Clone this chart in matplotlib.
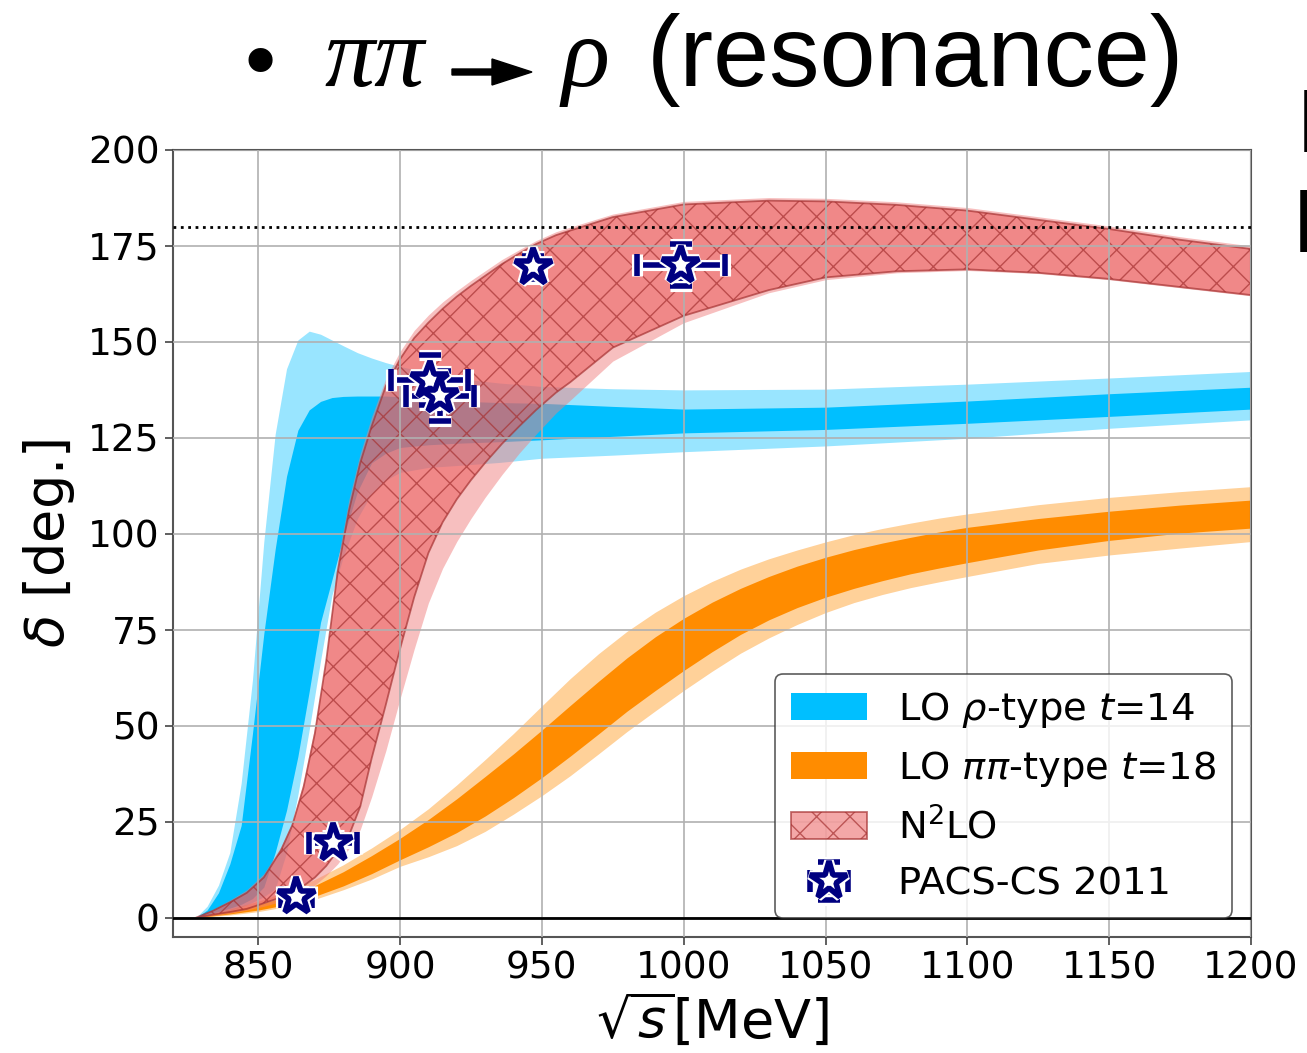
import matplotlib
matplotlib.use("Agg")
import matplotlib.pyplot as plt
import matplotlib.patheffects as pe
from matplotlib.patches import FancyArrow
from matplotlib.transforms import IdentityTransform

# ---------------- data ----------------
# LO rho-type t=14 band (sqrt(s) in MeV, delta in degrees)
x_rho = [828, 832, 836, 840, 844, 848, 852, 856, 860, 864, 868, 872, 876, 880,
         885, 890, 895, 900, 910, 920, 935, 950, 975, 1000, 1050, 1100, 1150, 1200]
rho_outer_hi = [0, 3, 8.5, 17, 35, 62, 98, 126, 143, 150.5, 152.8, 152, 150.5, 149,
                147.2, 145.8, 144.6, 143.6, 142, 140.5, 139.3, 138.4, 137.8, 137.5, 137.7, 139, 140.6, 142.3]
rho_outer_lo = [0, 0.5, 1, 1.8, 2.8, 4, 5.5, 7.5, 17, 32, 49, 67, 84, 94,
                104, 110.5, 114, 116, 117.3, 117.8, 118.6, 119.7, 120.5, 121.4, 122.9, 124.9, 127.5, 129.7]
rho_inner_hi = [0, 2, 6.5, 14, 24, 48, 74, 96, 115, 127, 132.3, 134.5, 135.5, 135.8,
                135.9, 135.9, 135.9, 135.7, 135.2, 134.6, 134.2, 134, 133.2, 132.5, 133, 134.6, 136.5, 138.2]
rho_inner_lo = [0, 0.8, 1.6, 2.5, 3.5, 5, 8, 17, 28, 42, 59, 77, 88, 99,
                111, 118.5, 121, 122.5, 123.2, 123.6, 124, 124.5, 125.4, 126.3, 127.2, 128.8, 130.6, 132.5]

# LO pipi-type t=18 band
x_pipi = [828, 840, 850, 860, 870, 880, 890, 900, 910, 920, 930, 940, 950, 960, 970, 980,
          990, 1000, 1010, 1020, 1030, 1040, 1050, 1060, 1070, 1080, 1090, 1100, 1125,
          1150, 1175, 1200]
pipi_outer_hi = [0, 2.3, 4.3, 6.8, 10, 13.8, 18.2, 23, 28.4, 34.6, 41.2, 48, 55.2, 62.3, 68.8, 74.6,
                 79.6, 83.9, 87.6, 90.8, 93.5, 95.8, 97.9, 99.8, 101.4, 102.8, 104.1, 105.2, 107.6,
                 109.5, 111, 112.3]
pipi_outer_lo = [0, 0.7, 1.6, 2.9, 4.8, 7.3, 10.1, 13.4, 15.9, 18.8, 22.5, 27, 31.8, 37, 42.7, 48.5,
                 53.9, 59.2, 64.2, 68.9, 72.9, 76.4, 79.5, 82.1, 84.2, 86, 87.5, 88.9, 92.3,
                 94.5, 96.3, 98]
pipi_inner_hi = [0, 1.8, 3.4, 5.5, 8.4, 12, 16.2, 20.7, 25.6, 31, 36.8, 42.7, 48.9, 55.3, 61.6, 67.7,
                 73.2, 78, 82.2, 85.8, 88.9, 91.6, 93.9, 95.9, 97.6, 99.1, 100.5, 101.7, 104,
                 105.9, 107.5, 108.8]
pipi_inner_lo = [0, 1.0, 2.0, 3.4, 5.6, 8.3, 11.5, 15.1, 18.5, 22.2, 26.5, 31.3, 36.5, 42.1, 47.9, 53.8,
                 59.2, 64.4, 69.3, 73.8, 77.6, 80.8, 83.5, 85.8, 87.8, 89.6, 91.1, 92.5, 95.8,
                 98.3, 100.2, 101.5]

# N2LO band
x_n2lo = [828, 834, 840, 846, 852, 858, 862, 866, 870, 874, 878, 882, 886, 890, 895, 900,
          905, 910, 915, 920, 925, 930, 936, 942, 948, 955, 960, 975, 1000, 1030, 1050,
          1075, 1100, 1125, 1150, 1175, 1200]
n2lo_outer_hi = [0, 2.2, 4.6, 7.3, 11.5, 18.5, 25, 35.5, 50, 68, 93, 109, 121, 130.5, 140.5, 147.5,
                 153, 157, 160.4, 163.3, 166, 168.5, 171.5, 174, 176.4, 178.7, 179.9, 183.3, 186.6, 187.6, 187.4,
                 186.5, 185, 182.6, 180.2, 177.4, 175]
n2lo_outer_lo = [0, 0.6, 1.2, 2, 3, 4.2, 5.2, 6.5, 8.5, 11, 14, 18, 23, 31.5, 43.5, 57,
                 70, 82, 91, 98, 104, 109.5, 115.5, 121, 126, 131.5, 134.8, 145, 155, 162.8, 166.2,
                 168, 168.6, 167.8, 166.2, 164.1, 162]
n2lo_inner_hi = [0, 1.8, 4, 6.5, 10.5, 17.5, 24, 34, 48, 67, 90, 106, 118.5, 128, 138.5, 145.5,
                 151, 155, 158.6, 161.8, 164.6, 167.2, 170.3, 173, 175.5, 177.8, 179, 182.5, 185.8, 186.8, 186.6,
                 185.7, 184.2, 181.8, 179.4, 176.6, 174.2]
n2lo_inner_lo = [0, 0.8, 1.5, 2.3, 3.8, 5.3, 6.5, 8.3, 10.5, 13.5, 17.5, 21.4, 29, 41.5, 55.5, 70,
                 83.5, 95, 103, 109, 114, 118.5, 123.5, 128, 132.3, 136.8, 139.5, 148.5, 156.8, 163.5, 166.8,
                 168.4, 168.9, 168, 166.4, 164.3, 162.2]

# PACS-CS 2011 lattice points
pacs_x = [863.5, 876.5, 910.5, 914.0, 947.0, 999.0]
pacs_y = [5.5, 19.5, 140.0, 136.0, 169.5, 170.0]
pacs_xerr = [5.5, 8.5, 13.5, 12.0, 3.0, 15.5]
pacs_yerr = [1.5, 2.0, 6.5, 6.5, 3.0, 5.5]

x_ticks = [850, 900, 950, 1000, 1050, 1100, 1150, 1200]
y_ticks = [0, 25, 50, 75, 100, 125, 150, 175, 200]

label_rho = r'LO $\rho$-type $t$=14'
label_pipi = r'LO $\pi\pi$-type $t$=18'
label_n2lo = r'N$^2$LO'
label_pacs = 'PACS-CS 2011'

# ---------------- figure ----------------
fig = plt.figure(figsize=(13.07, 10.53), dpi=100)
ax = fig.add_axes([0.1324, 0.1102, 0.8248, 0.7474])

blue = '#00BFFF'
orange = '#FF8C00'

ax.fill_between(x_rho, rho_outer_lo, rho_outer_hi, color=blue, alpha=0.4, lw=0, zorder=1)
ax.fill_between(x_rho, rho_inner_lo, rho_inner_hi, color=blue, lw=0, zorder=1.1,
                label=label_rho)
ax.fill_between(x_pipi, pipi_outer_lo, pipi_outer_hi, color=orange, alpha=0.4, lw=0, zorder=1.2)
ax.fill_between(x_pipi, pipi_inner_lo, pipi_inner_hi, color=orange, lw=0, zorder=1.3,
                label=label_pipi)
ax.fill_between(x_n2lo, n2lo_outer_lo, n2lo_outer_hi, color='lightcoral', alpha=0.5,
                lw=0, zorder=1.4)
ax.fill_between(x_n2lo, n2lo_inner_lo, n2lo_inner_hi, facecolor=(0.92, 0.32, 0.32, 0.5),
                edgecolor=(0.65, 0.2, 0.2, 0.7), hatch='x', lw=1.3, zorder=1.5,
                label=label_n2lo)

ax.axhline(0, color='black', lw=2, zorder=3)
ax.axhline(180, color='black', ls=':', lw=2, zorder=3)

eb = ax.errorbar(pacs_x, pacs_y, xerr=pacs_xerr, yerr=pacs_yerr, fmt='*', ms=28,
                 mfc='white', mec='navy', mew=4, ecolor='navy', elinewidth=4,
                 capsize=8, capthick=4, zorder=6, label=label_pacs)
halo = [pe.Stroke(linewidth=8, foreground='white'), pe.Normal()]
eb[0].set_path_effects([pe.Stroke(linewidth=7, foreground='white'), pe.Normal()])
for cap in eb[1]:
    cap.set_path_effects(halo)
for bar in eb[2]:
    bar.set_path_effects(halo)

ax.set_xlim(820, 1200)
ax.set_ylim(-5, 200)
ax.set_xticks(x_ticks)
ax.set_yticks(y_ticks)
ax.tick_params(labelsize=27, length=6, width=1.2, color='#444444')
ax.grid(True, color='#b0b0b0', lw=1.2)
ax.set_axisbelow(False)
for sp in ax.spines.values():
    sp.set_color('#555555')
    sp.set_linewidth(1.5)

ax.set_xlabel(r'$\sqrt{s}$[MeV]', fontsize=39, labelpad=4)
ax.set_ylabel(r'$\delta$ [deg.]', fontsize=39, labelpad=8)

leg = ax.legend(loc='lower right', fontsize=27.7, framealpha=0.8, edgecolor='#333333')
leg.get_frame().set_linewidth(1.2)

# slide heading above the plot
W, H = 1307.0, 1053.0
fig.text(260 / W, 1 - 68 / H, '\u2022', fontsize=60, ha='center', va='center',
         family='DejaVu Sans')
fig.text(324 / W, 1 - 86 / H, '\u03c0\u03c0', fontsize=72, ha='left', va='baseline',
         family='Liberation Serif', style='italic')
fig.patches.append(FancyArrow(452, H - 72, 80, 0, width=6, head_width=26, head_length=40,
                              length_includes_head=True, color='black',
                              transform=IdentityTransform(), figure=fig))
fig.text(562 / W, 1 - 86 / H, '\u03c1', fontsize=72, ha='left', va='baseline',
         family='Liberation Serif', style='italic')
fig.text(647 / W, 1 - 86 / H, '(resonance)', fontsize=72.5, ha='left', va='baseline',
         family='Liberation Sans')
# partially visible text continuing beyond the right border
fig.text(1297 / W, 1 - 152 / H, 'P', fontsize=64, ha='left', va='baseline',
         family='Liberation Sans')
fig.text(1293 / W, 1 - 252 / H, 'P', fontsize=64, ha='left', va='baseline',
         family='Liberation Sans')

fig.savefig('out.png', dpi=100)
